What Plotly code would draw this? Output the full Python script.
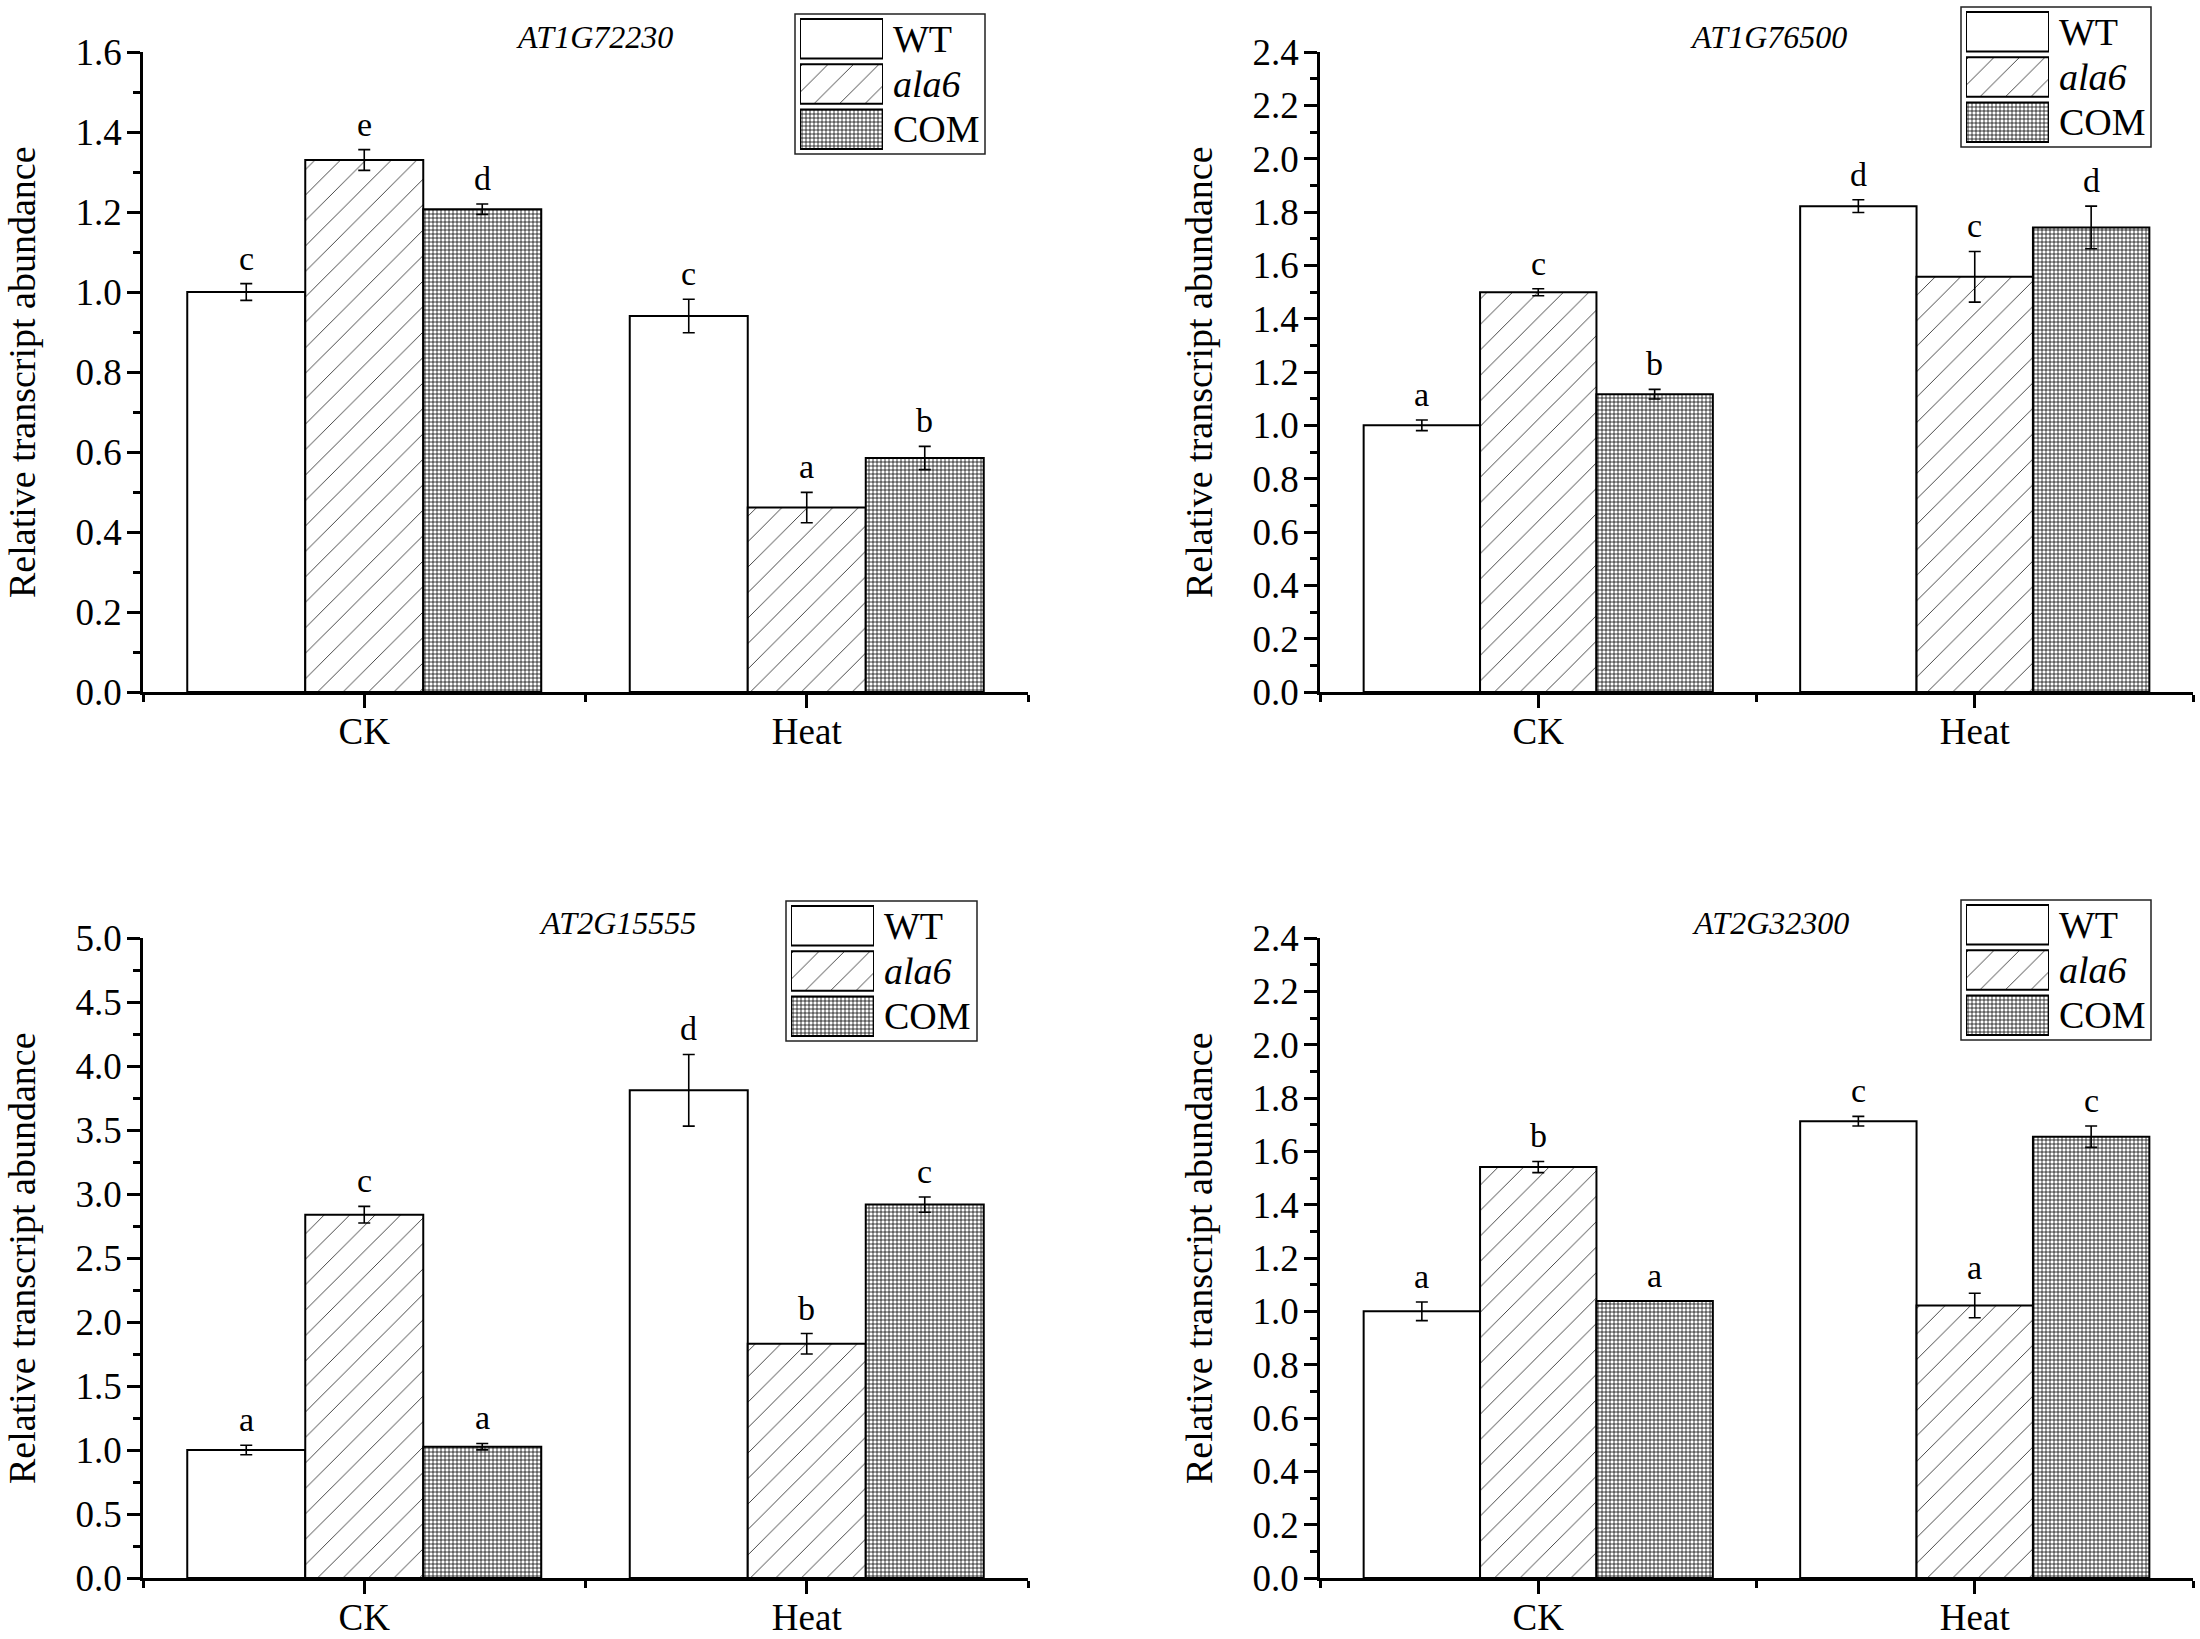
import plotly.graph_objects as go

# ---------------- data ----------------
GENES = ["AT1G72230", "AT1G76500", "AT2G15555", "AT2G32300"]
CATEGORIES = ["CK", "Heat"]
SERIES = ["WT", "ala6", "COM"]
SERIES_LABELS = ["WT", "<i>ala6</i>", "COM"]

# values per gene (panel order as GENES), each list = [CK, Heat]
WT_MEAN = [[1.000, 0.940], [1.000, 1.822], [1.000, 3.810], [1.000, 1.713]]
ALA6_MEAN = [[1.330, 0.461], [1.499, 1.557], [2.838, 1.830], [1.541, 1.022]]
COM_MEAN = [[1.207, 0.585], [1.117, 1.742], [1.026, 2.917], [1.039, 1.655]]

WT_ERR = [[0.021, 0.042], [0.020, 0.024], [0.037, 0.280], [0.035, 0.018]]
ALA6_ERR = [[0.026, 0.038], [0.013, 0.095], [0.065, 0.080], [0.021, 0.046]]
COM_ERR = [[0.013, 0.029], [0.018, 0.080], [0.025, 0.060], [0.000, 0.040]]

WT_LETTERS = [["c", "c"], ["a", "d"], ["a", "d"], ["a", "c"]]
ALA6_LETTERS = [["e", "a"], ["c", "c"], ["c", "b"], ["b", "a"]]
COM_LETTERS = [["d", "b"], ["b", "d"], ["a", "c"], ["a", "c"]]

Y_MAX = [1.6, 2.4, 5.0, 2.4]
Y_DTICK = [0.2, 0.2, 0.5, 0.2]
Y_TITLE = "Relative transcript abundance"

MEANS = [WT_MEAN, ALA6_MEAN, COM_MEAN]
ERRS = [WT_ERR, ALA6_ERR, COM_ERR]
LETTERS = [WT_LETTERS, ALA6_LETTERS, COM_LETTERS]

# ---------------- style ----------------
FONT = "Liberation Serif"
W, H = 2200, 1639
BARGAP = 0.2
PATTERNS = [
    dict(shape="", size=8, solidity=0.3),
    dict(shape="/", size=18, solidity=0.04),
    dict(shape="+", size=4, solidity=0.34),
]
# panel geometry in pixels (axis left, axis right, top, bottom)
PANEL_X = [(143, 1028), (1320, 2193), (143, 1028), (1320, 2193)]
PANEL_Y = [(52, 692), (52, 692), (938, 1578), (938, 1578)]
TITLE_POS = [(594, 37), (1768, 37), (617, 923), (1770, 923)]
YTITLE_X = [22, 1199, 22, 1199]
LEGEND_BOX = [(795, 14, 985, 154), (1961, 7, 2151, 147),
              (786, 901, 977, 1041), (1961, 900, 2151, 1040)]

def fx(px):
    return px / W

def fy(py):
    return 1 - py / H

fig = go.Figure()
annotations = []
shapes = []
layout_axes = {}

n_s = len(SERIES)
xpos = list(range(len(CATEGORIES)))
group_w = 1 - BARGAP

for p, gene in enumerate(GENES):
    sfx = "" if p == 0 else str(p + 1)
    xa, ya = "x" + sfx, "y" + sfx
    for s in range(n_s):
        pat = PATTERNS[s]
        fig.add_trace(go.Bar(
            x=xpos, y=MEANS[s][p], name=SERIES[s],
            xaxis=xa, yaxis=ya, showlegend=False,
            error_y=dict(type="data", array=ERRS[s][p], visible=True,
                         color="black", thickness=1.6, width=6),
            marker=dict(color="white", line=dict(color="black", width=2),
                        pattern=dict(shape=pat["shape"], size=pat["size"],
                                     solidity=pat["solidity"], fgcolor="black",
                                     bgcolor="white", fillmode="replace")),
        ))
        off = (s - (n_s - 1) / 2) * group_w / n_s
        for i in xpos:
            annotations.append(dict(
                x=i + off, y=MEANS[s][p][i] + ERRS[s][p][i], xref=xa, yref=ya,
                text=LETTERS[s][p][i], showarrow=False, yanchor="bottom",
                yshift=5, font=dict(family=FONT, size=34, color="black")))

    x0, x1 = PANEL_X[p]
    y0, y1 = PANEL_Y[p]
    layout_axes["xaxis" + sfx] = dict(
        domain=[fx(x0), fx(x1)], anchor=ya, range=[-0.5, len(CATEGORIES) - 0.5],
        automargin=False,
        tickmode="array", tickvals=xpos, ticktext=CATEGORIES,
        ticks="outside", ticklen=13, tickwidth=2.5, tickcolor="black",
        showline=True, linecolor="black", linewidth=2.5,
        showgrid=False, zeroline=False, ticklabelstandoff=-8,
        tickfont=dict(family=FONT, size=37, color="black"),
        minor=dict(tickmode="array",
                   tickvals=[k - 0.5 for k in range(len(CATEGORIES) + 1)],
                   ticks="outside", ticklen=7, tickwidth=2.5, tickcolor="black",
                   showgrid=False))
    layout_axes["yaxis" + sfx] = dict(
        domain=[fy(y1), fy(y0)], anchor=xa, range=[0, Y_MAX[p]],
        automargin=False,
        tick0=0, dtick=Y_DTICK[p], tickformat=".1f",
        ticks="outside", ticklen=13, tickwidth=2.5, tickcolor="black",
        showline=True, linecolor="black", linewidth=2.5,
        showgrid=False, zeroline=False, ticklabelstandoff=-2,
        tickfont=dict(family=FONT, size=37, color="black"),
        minor=dict(tick0=0, dtick=Y_DTICK[p] / 2, ticks="outside", ticklen=7,
                   tickwidth=2.5, tickcolor="black", showgrid=False))

    # gene title
    tx, ty = TITLE_POS[p]
    annotations.append(dict(x=fx(tx), y=fy(ty), xref="paper", yref="paper",
                            text="<i>" + gene + "</i>", showarrow=False,
                            xanchor="center", yanchor="middle",
                            font=dict(family=FONT, size=32, color="black")))
    # y title
    annotations.append(dict(x=fx(YTITLE_X[p]), y=fy((y0 + y1) / 2),
                            xref="paper", yref="paper", text=Y_TITLE,
                            showarrow=False, textangle=-90,
                            xanchor="center", yanchor="middle",
                            font=dict(family=FONT, size=38, color="black")))

    # legend (swatches drawn as bars on a hidden axis pair)
    lsfx = str(p + 5)
    bx0, by0, bx1, by1 = LEGEND_BOX[p]
    shapes.append(dict(type="rect", xref="paper", yref="paper",
                       x0=fx(bx0), x1=fx(bx1), y0=fy(by1), y1=fy(by0),
                       line=dict(color="#222", width=1.5), fillcolor="rgba(0,0,0,0)"))
    fig.add_trace(go.Bar(
        y=SERIES, x=[1] * n_s, base=0, orientation="h", width=0.87,
        xaxis="x" + lsfx, yaxis="y" + lsfx, showlegend=False, hoverinfo="skip",
        marker=dict(color="white", line=dict(color="black", width=2),
                    pattern=dict(shape=[pt["shape"] for pt in PATTERNS],
                                 size=[pt["size"] for pt in PATTERNS],
                                 solidity=[pt["solidity"] for pt in PATTERNS],
                                 fgcolor="black", bgcolor="white",
                                 fillmode="replace")),
    ))
    layout_axes["xaxis" + lsfx] = dict(domain=[fx(bx0 + 5), fx(bx0 + 88)],
                                        anchor="y" + lsfx, range=[0, 1],
                                        automargin=False,
                                        visible=False, fixedrange=True)
    layout_axes["yaxis" + lsfx] = dict(domain=[fy(by1 - 2), fy(by0 + 2)],
                                        anchor="x" + lsfx, type="category",
                                        categoryorder="array", categoryarray=SERIES,
                                        range=[n_s - 0.5, -0.5],
                                        automargin=False,
                                        visible=False, fixedrange=True)
    for s in range(n_s):
        annotations.append(dict(x=1, y=SERIES[s], xref="x" + lsfx, yref="y" + lsfx,
                                text=SERIES_LABELS[s], showarrow=False,
                                xanchor="left", yanchor="middle", xshift=8,
                                font=dict(family=FONT, size=38, color="black")))

fig.update_layout(
    width=W, height=H, margin=dict(l=0, r=0, t=0, b=0, autoexpand=False),
    paper_bgcolor="white", plot_bgcolor="white",
    barmode="group", bargap=BARGAP, bargroupgap=0,
    annotations=annotations, shapes=shapes,
    font=dict(family=FONT, color="black"),
    **layout_axes,
)

fig.write_html("out.html",
               config={"displayModeBar": False},
               post_script="document.body.style.margin='0';"
                           "document.body.style.overflow='hidden';")
